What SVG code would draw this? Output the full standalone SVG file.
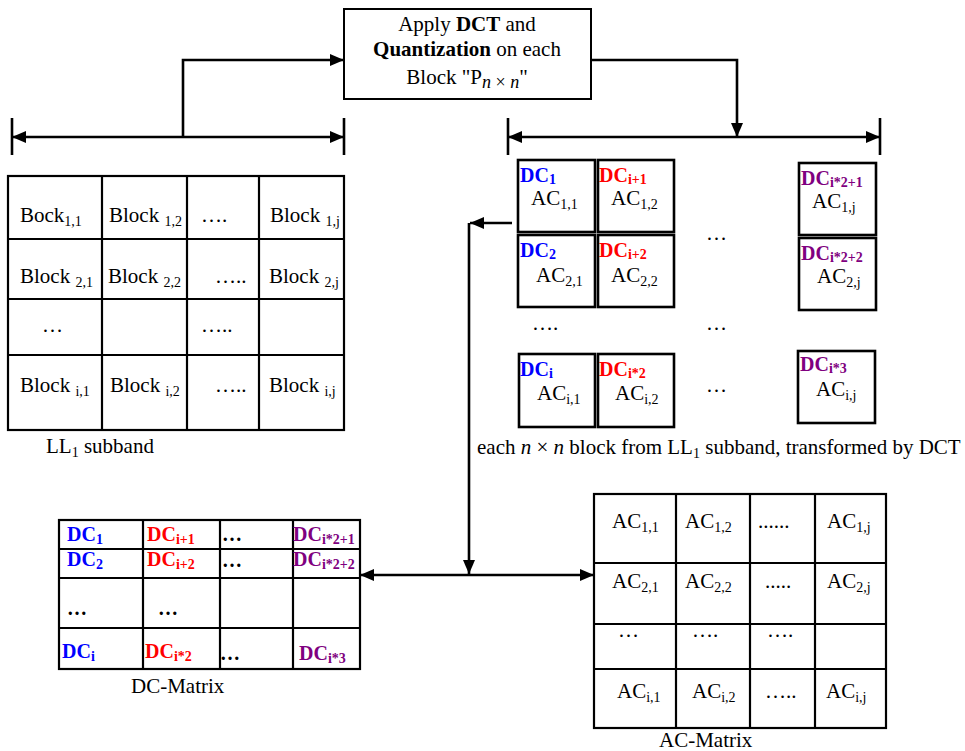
<svg xmlns="http://www.w3.org/2000/svg" width="965" height="751" viewBox="0 0 965 751">
<style>
text{font-family:"Liberation Serif","Times New Roman",serif;font-size:21px;fill:#000}
.b{font-weight:bold}
.dc{font-weight:bold;font-size:20px}
.blue{fill:#0000ff}.red{fill:#ff0000}.pur{fill:#800080}
.blk{fill:#fff;stroke:#000;stroke-width:2.6}
.ln{fill:none;stroke:#000;stroke-width:2.6}
.gl{stroke:#000;stroke-width:2.2}
</style>
<defs>
<marker id="ah" viewBox="0 0 14 12" refX="14" refY="6" markerWidth="14" markerHeight="12" orient="auto-start-reverse" markerUnits="userSpaceOnUse"><path d="M0,0 L14,6 L0,12 z" fill="#000"/></marker>
</defs>

<g id="dct-box">
<rect x="344" y="9" width="247" height="90" fill="#fff" stroke="#000" stroke-width="2"/>
<text x="467" y="31" text-anchor="middle">Apply <tspan class="b">DCT</tspan> and</text>
<text x="467" y="56" text-anchor="middle"><tspan class="b">Quantization</tspan> on each</text>
<text x="467" y="84" text-anchor="middle">Block "P<tspan font-size="18" font-style="italic" dy="4">n</tspan><tspan font-size="18"> × </tspan><tspan font-size="18" font-style="italic">n</tspan><tspan dy="-4">"</tspan></text>
</g>

<g id="connectors">
<line x1="12" y1="118" x2="12" y2="155" class="ln"/>
<line x1="344" y1="118" x2="344" y2="155" class="ln"/>
<line x1="12" y1="137" x2="344" y2="137" class="ln" marker-start="url(#ah)" marker-end="url(#ah)"/>
<polyline points="183,137 183,60 344,60" class="ln" marker-end="url(#ah)"/>
<line x1="508" y1="118" x2="508" y2="155" class="ln"/>
<line x1="880" y1="118" x2="880" y2="155" class="ln"/>
<line x1="508" y1="137" x2="880" y2="137" class="ln" marker-start="url(#ah)" marker-end="url(#ah)"/>
<polyline points="591,60 737,60 737,137" class="ln" marker-end="url(#ah)"/>
<line x1="512" y1="223" x2="470" y2="223" class="ln" marker-end="url(#ah)"/>
<line x1="469" y1="223" x2="469" y2="574" class="ln" marker-end="url(#ah)"/>
<line x1="360" y1="575" x2="594" y2="575" class="ln" marker-start="url(#ah)" marker-end="url(#ah)"/>
</g>

<g id="ll1-grid">
<rect x="8" y="176" width="336" height="254" fill="#fff" stroke="#000" stroke-width="2.2"/>
<line x1="102" y1="176" x2="102" y2="430" class="gl"/>
<line x1="187" y1="176" x2="187" y2="430" class="gl"/>
<line x1="259" y1="176" x2="259" y2="430" class="gl"/>
<line x1="8" y1="239" x2="344" y2="239" class="gl"/>
<line x1="8" y1="299" x2="344" y2="299" class="gl"/>
<line x1="8" y1="355" x2="344" y2="355" class="gl"/>
<text x="20" y="222">Bock<tspan font-size="14" dy="4">1,1</tspan></text>
<text x="109" y="222">Block <tspan font-size="14" dy="4">1,2</tspan></text>
<text x="201" y="222">….</text>
<text x="270" y="222">Block <tspan font-size="14" dy="4">1,j</tspan></text>
<text x="20" y="283">Block <tspan font-size="14" dy="4">2,1</tspan></text>
<text x="108" y="283">Block <tspan font-size="14" dy="4">2,2</tspan></text>
<text x="215" y="283">…..</text>
<text x="269" y="283">Block <tspan font-size="14" dy="4">2,j</tspan></text>
<text x="42" y="332">…</text>
<text x="201" y="332">…..</text>
<text x="20" y="392">Block <tspan font-size="14" dy="4">i,1</tspan></text>
<text x="110" y="392">Block <tspan font-size="14" dy="4">i,2</tspan></text>
<text x="215" y="392">…..</text>
<text x="269" y="392">Block <tspan font-size="14" dy="4">i,j</tspan></text>
<text x="46" y="453">LL<tspan font-size="14" dy="4">1</tspan><tspan dy="-4"> subband</tspan></text>
</g>

<g id="blk-1-1"><rect x="518" y="160" width="77" height="72" class="blk"/>
<text x="520" y="182" class="dc blue">DC<tspan font-size="14" dy="2">1</tspan></text>
<text x="531" y="205">AC<tspan font-size="14" dy="4">1,1</tspan></text></g>
<g id="blk-1-2"><rect x="598" y="160" width="76" height="72" class="blk"/>
<text x="599" y="182" class="dc red">DC<tspan font-size="14" dy="2">i+1</tspan></text>
<text x="611" y="205">AC<tspan font-size="14" dy="4">1,2</tspan></text></g>
<g id="blk-1-j"><rect x="799" y="163" width="77" height="72" class="blk"/>
<text x="801" y="185" class="dc pur">DC<tspan font-size="14" dy="2">i*2+1</tspan></text>
<text x="812" y="208">AC<tspan font-size="14" dy="4">1,j</tspan></text></g>
<g id="blk-2-1"><rect x="518" y="235" width="77" height="72" class="blk"/>
<text x="520" y="257" class="dc blue">DC<tspan font-size="14" dy="2">2</tspan></text>
<text x="536" y="282">AC<tspan font-size="14" dy="4">2,1</tspan></text></g>
<g id="blk-2-2"><rect x="598" y="235" width="76" height="72" class="blk"/>
<text x="599" y="257" class="dc red">DC<tspan font-size="14" dy="2">i+2</tspan></text>
<text x="611" y="282">AC<tspan font-size="14" dy="4">2,2</tspan></text></g>
<g id="blk-2-j"><rect x="799" y="238" width="77" height="72" class="blk"/>
<text x="801" y="260" class="dc pur">DC<tspan font-size="14" dy="2">i*2+2</tspan></text>
<text x="817" y="283">AC<tspan font-size="14" dy="4">2,j</tspan></text></g>
<g id="blk-i-1"><rect x="519" y="354" width="76" height="73" class="blk"/>
<text x="520" y="376" class="dc blue">DC<tspan font-size="14" dy="2">i</tspan></text>
<text x="537" y="400">AC<tspan font-size="14" dy="4">i,1</tspan></text></g>
<g id="blk-i-2"><rect x="598" y="354" width="76" height="73" class="blk"/>
<text x="599" y="376" class="dc red">DC<tspan font-size="14" dy="2">i*2</tspan></text>
<text x="615" y="400">AC<tspan font-size="14" dy="4">i,2</tspan></text></g>
<g id="blk-i-j"><rect x="798" y="351" width="77" height="72" class="blk"/>
<text x="800" y="371" class="dc pur">DC<tspan font-size="14" dy="2">i*3</tspan></text>
<text x="816" y="396">AC<tspan font-size="14" dy="4">i,j</tspan></text></g>
<g id="blk-dots">
<text x="706" y="240">…</text>
<text x="532" y="330">….</text>
<text x="706" y="330">…</text>
<text x="706" y="392">…</text>
<text x="477" y="454">each <tspan font-style="italic">n</tspan> × <tspan font-style="italic">n</tspan> block from LL<tspan font-size="14" dy="4">1</tspan><tspan dy="-4"> subband, transformed by DCT</tspan></text>
</g>

<g id="dc-matrix">
<rect x="59" y="520" width="301" height="149" fill="#fff" stroke="#000" stroke-width="2.2"/>
<line x1="143" y1="520" x2="143" y2="669" class="gl"/>
<line x1="220" y1="520" x2="220" y2="669" class="gl"/>
<line x1="293" y1="520" x2="293" y2="669" class="gl"/>
<line x1="59" y1="549" x2="360" y2="549" class="gl"/>
<line x1="59" y1="578" x2="360" y2="578" class="gl"/>
<line x1="59" y1="628" x2="360" y2="628" class="gl"/>
<text x="67" y="541" class="dc blue">DC<tspan font-size="14" dy="3">1</tspan></text>
<text x="147" y="541" class="dc red">DC<tspan font-size="14" dy="3">i+1</tspan></text>
<text x="222" y="541" class="dc">…</text>
<text x="293" y="541" class="dc pur">DC<tspan font-size="14" dy="3">i*2+1</tspan></text>
<text x="67" y="566" class="dc blue">DC<tspan font-size="14" dy="3">2</tspan></text>
<text x="147" y="566" class="dc red">DC<tspan font-size="14" dy="3">i+2</tspan></text>
<text x="222" y="567" class="dc">…</text>
<text x="293" y="566" class="dc pur">DC<tspan font-size="14" dy="3">i*2+2</tspan></text>
<text x="67" y="615" class="dc">…</text>
<text x="158" y="615" class="dc">…</text>
<text x="62" y="658" class="dc blue">DC<tspan font-size="14" dy="3">i</tspan></text>
<text x="145" y="658" class="dc red">DC<tspan font-size="14" dy="3">i*2</tspan></text>
<text x="220" y="660" class="dc">…</text>
<text x="299" y="660" class="dc pur">DC<tspan font-size="14" dy="3">i*3</tspan></text>
<text x="131" y="693">DC-Matrix</text>
</g>

<g id="ac-matrix">
<rect x="594" y="494" width="292" height="234" fill="#fff" stroke="#000" stroke-width="2.2"/>
<line x1="676" y1="494" x2="676" y2="728" class="gl"/>
<line x1="750" y1="494" x2="750" y2="728" class="gl"/>
<line x1="815" y1="494" x2="815" y2="728" class="gl"/>
<line x1="594" y1="563" x2="886" y2="563" class="gl"/>
<line x1="594" y1="624" x2="886" y2="624" class="gl"/>
<line x1="594" y1="669" x2="886" y2="669" class="gl"/>
<text x="612" y="528">AC<tspan font-size="14" dy="4">1,1</tspan></text>
<text x="685" y="528">AC<tspan font-size="14" dy="4">1,2</tspan></text>
<text x="758" y="528">......</text>
<text x="827" y="528">AC<tspan font-size="14" dy="4">1,j</tspan></text>
<text x="612" y="588">AC<tspan font-size="14" dy="4">2,1</tspan></text>
<text x="685" y="588">AC<tspan font-size="14" dy="4">2,2</tspan></text>
<text x="765" y="588">.....</text>
<text x="827" y="588">AC<tspan font-size="14" dy="4">2,j</tspan></text>
<text x="618" y="637">…</text>
<text x="692" y="637">….</text>
<text x="767" y="637">….</text>
<text x="617" y="698">AC<tspan font-size="14" dy="4">i,1</tspan></text>
<text x="692" y="698">AC<tspan font-size="14" dy="4">i,2</tspan></text>
<text x="765" y="698">…..</text>
<text x="826" y="698">AC<tspan font-size="14" dy="4">i,j</tspan></text>
<text x="659" y="747">AC-Matrix</text>
</g>
</svg>
